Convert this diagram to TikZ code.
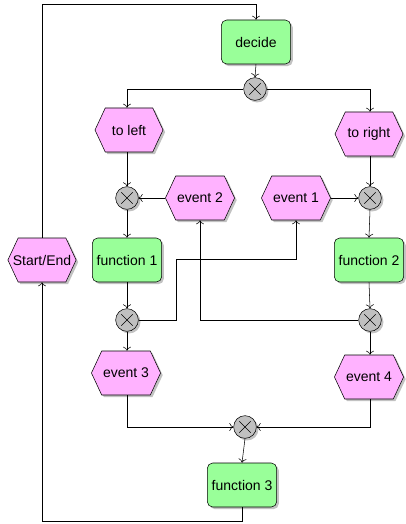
\documentclass[tikz,border=0pt]{standalone}
\usepackage{fontspec}
\setmainfont{Liberation Sans}
\usepackage{tikz}
\usetikzlibrary{positioning,arrows.meta,shapes.symbols,shadows}
\definecolor{fgreen}{RGB}{153,255,153}
\definecolor{epink}{RGB}{255,178,255}
\definecolor{xgray}{RGB}{192,192,192}
\tikzset{
  shad/.style={drop shadow={shadow xshift=1.6pt,shadow yshift=-1.6pt,fill=black!40,opacity=.6}},
  func/.style={draw,fill=fgreen,rounded corners=4pt,minimum width=52pt,minimum height=33pt,inner sep=1pt,shad,font=\fontsize{10.5}{12}\selectfont},
  evt/.style={draw,fill=epink,signal,signal to=east and west,signal pointer angle=130,minimum width=51pt,minimum height=33pt,inner sep=1pt,shad,font=\fontsize{10.5}{12}\selectfont},
  xorg/.style={draw,fill=xgray,circle,minimum size=17pt,inner sep=0pt,shad,
    path picture={\draw ([shift={(-4.3pt,4.3pt)}]path picture bounding box.center)--++(8.6pt,-8.6pt)
      ([shift={(-4.3pt,-4.3pt)}]path picture bounding box.center)--++(8.6pt,8.6pt);}},
  flow/.style={thin,-{To[length=3pt,width=6pt]}},
  seg/.style={thin}
}
\begin{document}
\begin{tikzpicture}[x=0.75pt,y=-0.75pt]
  \useasboundingbox (0,0) rectangle (406,524);
  % functions
  \node[func] (decide) at (256,42) {decide};
  \node[func] (f1) at (127,260) {function 1};
  \node[func] (f2) at (369,260) {function 2};
  \node[func] (f3) at (242,485) {function 3};
  % events
  \node[evt] (tl) at (129,130) {to left};
  \node[evt] (tr) at (369,134) {to right};
  \node[evt] (ev2) at (200,198) {event 2};
  \node[evt] (ev1) at (296,198) {event 1};
  \node[evt,inner xsep=-4pt] (start) at (42,260) {Start/End};
  \node[evt] (ev3) at (126,373) {event 3};
  \node[evt] (ev4) at (369,377) {event 4};
  % xor connectors
  \node[xorg] (g0) at (255,89) {};
  \node[xorg] (gl) at (127,198) {};
  \node[xorg] (gr) at (370,198) {};
  \node[xorg] (gb1) at (127,320) {};
  \node[xorg] (gb2) at (370,320) {};
  \node[xorg] (gm) at (245,427) {};
  \coordinate (top) at (42,4);
  \coordinate (bot) at (42,521);
  \coordinate (j1) at (176,259);
  % control flow
  \draw[seg] (start.north) -- (top);
  \draw[flow] (top) -| (decide.north);
  \draw[flow] (decide.south) -- (g0.north);
  \draw[flow] (g0.west) -| (gl.north |- tl.north);
  \draw[flow] (g0.east) -| (gr.north |- tr.north);
  \draw[flow] (gl.north |- tl.south) -- (gl.north);
  \draw[flow] (gr.north |- tr.south) -- (gr.north);
  \draw[flow] (ev2.west) -- (gl.east);
  \draw[flow] (ev1.east) -- (gr.west);
  \draw[flow] (gl.south) -- (f1.north);
  \draw[flow] (gr.south) -- (f2.north);
  \draw[flow] (f1.south) -- (gb1.north);
  \draw[flow] (f2.south) -- (gb2.north);
  \draw[flow] (gb1.south) -- (gb1.south |- ev3.north);
  \draw[flow] (gb2.south) -- (gb2.south |- ev4.north);
  \draw[seg] (gb1.east) -| (j1);
  \draw[flow] (j1) -| (ev1.south);
  \draw[flow] (gb2.west) -| (ev2.south);
  \draw[flow] (gb1.south |- ev3.south) |- (gm.west);
  \draw[flow] (gb2.south |- ev4.south) |- (gm.east);
  \draw[flow] (gm.south) -- (f3.north);
  \draw[seg] (f3.south) |- (bot);
  \draw[flow] (bot) -- (start.south);
\end{tikzpicture}
\end{document}
